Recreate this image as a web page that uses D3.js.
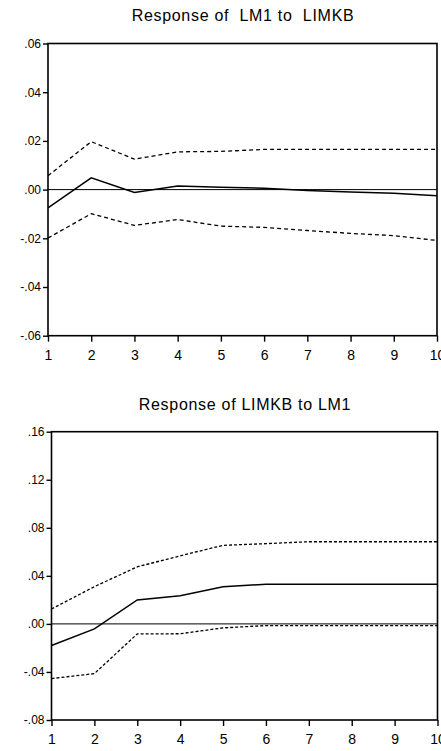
<!DOCTYPE html>
<html>
<head>
<meta charset="utf-8">
<script src="https://cdn.jsdelivr.net/npm/d3@7"></script>
<style>
  body { margin: 0; background: #fff; }
  text { font-family: 'Liberation Sans', Arial, sans-serif; }
</style>
</head>
<body>
<div id="root"></div>
<script>
'use strict';

const periods = [1, 2, 3, 4, 5, 6, 7, 8, 9, 10];

// Response of LM1 to LIMKB
const lm1Resp  = [-0.0075, 0.0048, -0.0012, 0.0015, 0.0010, 0.0006, -0.0004, -0.0010, -0.0015, -0.0025],
      lm1Upper = [0.0057, 0.0197, 0.0125, 0.0155, 0.0157, 0.0165, 0.0165, 0.0165, 0.0165, 0.0165],
      lm1Lower = [-0.0199, -0.0099, -0.0147, -0.0123, -0.0150, -0.0155, -0.0168, -0.0180, -0.0189, -0.0209],
      lm1Ticks = [-0.06, -0.04, -0.02, 0, 0.02, 0.04, 0.06];

// Response of LIMKB to LM1
const limResp  = [-0.0180, -0.0041, 0.0199, 0.0234, 0.0310, 0.0330, 0.0330, 0.0330, 0.0330, 0.0330],
      limUpper = [0.0124, 0.0310, 0.0475, 0.0567, 0.0654, 0.0668, 0.0684, 0.0684, 0.0684, 0.0684],
      limLower = [-0.0455, -0.0414, -0.0083, -0.0082, -0.0033, -0.0014, -0.0014, -0.0014, -0.0014, -0.0014],
      limTicks = [-0.08, -0.04, 0, 0.04, 0.08, 0.12, 0.16];

const Root = document.querySelector('#root');

const svg = d3.select(Root)
              .append('svg')
              .attr('width', 441)
              .attr('height', 751);

function fmt(v) {
  return (v < 0 ? '-' : '') + Math.abs(v).toFixed(2).slice(1);
}

function panel(o) {
  const xScale = d3.scaleLinear()
                   .domain([1, 10])
                   .range([o.left, o.right]),
        yScale = d3.scaleLinear()
                   .domain(d3.extent(o.ticks))
                   .range([o.bottom, o.top]),
          line = d3.line()
                   .x((d, i) => xScale(periods[i]))
                   .y((d) => yScale(d));

  svg.append('text')
     .attr('x', o.titleX)
     .attr('y', o.titleY)
     .attr('text-anchor', 'middle')
     .attr('font-size', 16)
     .attr('letter-spacing', 0.7)
     .style('white-space', 'pre')
     .text(o.title);

  // zero line
  svg.append('line')
     .attr('x1', o.left)
     .attr('x2', o.right)
     .attr('y1', yScale(0))
     .attr('y2', yScale(0))
     .attr('stroke', '#000')
     .attr('stroke-width', 1);

  svg.append('path')
     .attr('d', line(o.upper))
     .attr('fill', 'none')
     .attr('stroke', '#000')
     .attr('stroke-width', 1.3)
     .attr('stroke-dasharray', o.dash);

  svg.append('path')
     .attr('d', line(o.lower))
     .attr('fill', 'none')
     .attr('stroke', '#000')
     .attr('stroke-width', 1.3)
     .attr('stroke-dasharray', o.dash);

  svg.append('path')
     .attr('d', line(o.resp))
     .attr('fill', 'none')
     .attr('stroke', '#000')
     .attr('stroke-width', 1.5);

  svg.append('rect')
     .attr('x', o.left)
     .attr('y', o.top)
     .attr('width', o.right - o.left)
     .attr('height', o.bottom - o.top)
     .attr('fill', 'none')
     .attr('stroke', '#000')
     .attr('stroke-width', 1.6);

  const yAxis = d3.axisLeft(yScale)
                  .tickValues(o.ticks)
                  .tickFormat(fmt)
                  .tickSize(5)
                  .tickPadding(2),
        xAxis = d3.axisBottom(xScale)
                  .tickValues(periods)
                  .tickSize(6)
                  .tickPadding(8.5);

  const gy = svg.append('g')
                .attr('transform', 'translate(' + o.left + ', 0)')
                .call(yAxis);
  gy.select('.domain').remove();
  gy.selectAll('text').attr('font-size', 12).attr('font-family', "'Liberation Sans', Arial, sans-serif");
  gy.selectAll('line').attr('stroke-width', 1.4);

  const gx = svg.append('g')
                .attr('transform', 'translate(0, ' + o.bottom + ')')
                .call(xAxis);
  gx.select('.domain').remove();
  gx.selectAll('text').attr('font-size', 14).attr('font-family', "'Liberation Sans', Arial, sans-serif");
  gx.selectAll('line').attr('stroke-width', 1.4);
}

panel({
  title: 'Response of  LM1 to  LIMKB',
  titleX: 243, titleY: 21,
  left: 48, right: 437, top: 43.5, bottom: 335.7,
  ticks: lm1Ticks,
  resp: lm1Resp, upper: lm1Upper, lower: lm1Lower,
  dash: '4,3'
});

panel({
  title: 'Response of LIMKB to LM1',
  titleX: 245, titleY: 410,
  left: 51.5, right: 437.5, top: 431.7, bottom: 720,
  ticks: limTicks,
  resp: limResp, upper: limUpper, lower: limLower,
  dash: '3,2'
});
</script>
</body>
</html>
